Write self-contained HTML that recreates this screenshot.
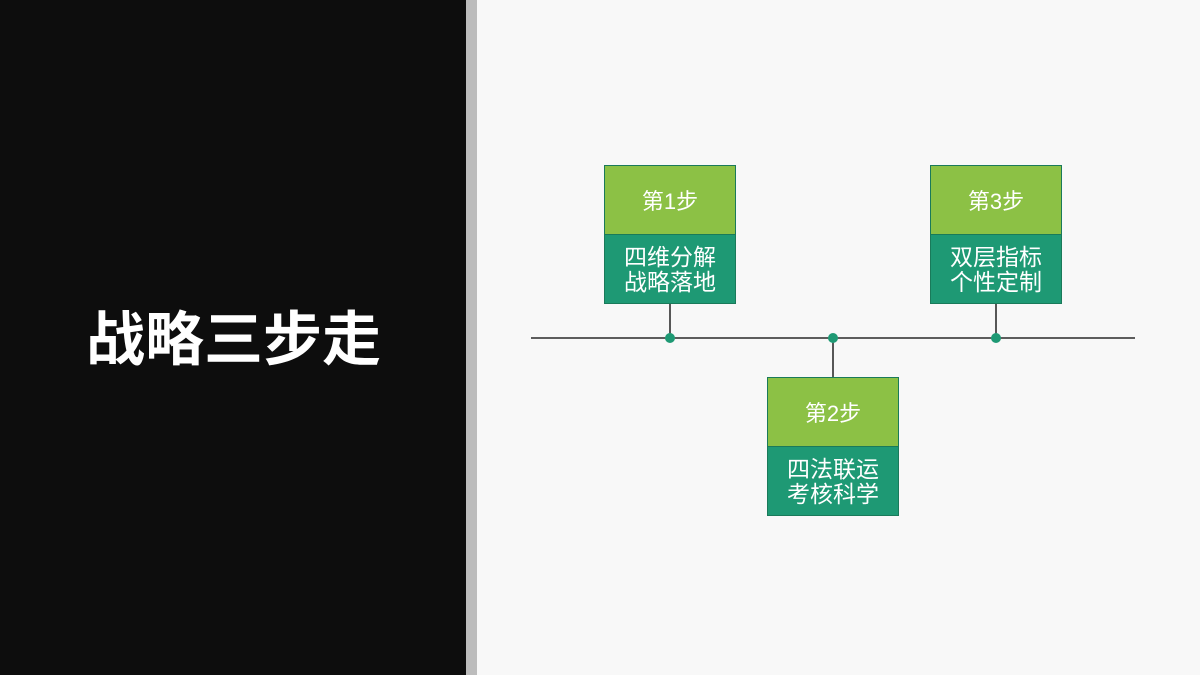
<!DOCTYPE html>
<html><head><meta charset="utf-8"><style>
*{margin:0;padding:0;box-sizing:border-box}
body{width:1200px;height:675px;overflow:hidden;background:#f8f8f8;position:relative;font-family:"Liberation Sans","Noto Sans CJK SC",sans-serif}
.left{position:absolute;left:0;top:0;width:466px;height:675px;background:#0d0d0d}
.strip{position:absolute;left:466px;top:0;width:11px;height:675px;background:#bcbcbc}
.title{position:absolute;left:86px;top:302px;width:300px;font-size:59px;font-weight:bold;color:#fff;line-height:76px;white-space:nowrap}
.box{position:absolute;width:132px;height:139px;border:1px solid #1a7a5a}
.top{height:69px;background:#8cc145;color:#fff;font-size:22px;display:flex;align-items:center;justify-content:center;border-bottom:1px solid #1a7a5a}
.bot{height:68px;background:#1e9974;color:#fff;font-size:23px;line-height:25px;display:flex;align-items:center;justify-content:center;text-align:center;padding-top:2px}
</style></head><body>
<div class="left"></div><div class="strip"></div>
<div class="title">战略三步走</div>
<svg width="1200" height="675" style="position:absolute;left:0;top:0">
<line x1="531" y1="338" x2="1135" y2="338" stroke="#000" stroke-width="1.3"/>
<line x1="670" y1="303" x2="670" y2="338" stroke="#000" stroke-width="1.3"/>
<line x1="996" y1="303" x2="996" y2="338" stroke="#000" stroke-width="1.3"/>
<line x1="833" y1="338" x2="833" y2="377" stroke="#000" stroke-width="1.3"/>
<circle cx="670" cy="338" r="5" fill="#1e9974"/>
<circle cx="833" cy="338" r="5" fill="#1e9974"/>
<circle cx="996" cy="338" r="5" fill="#1e9974"/>
</svg>
<div class="box" style="left:604px;top:165px"><div class="top">第1步</div><div class="bot">四维分解<br>战略落地</div></div>
<div class="box" style="left:767px;top:377px"><div class="top">第2步</div><div class="bot">四法联运<br>考核科学</div></div>
<div class="box" style="left:930px;top:165px"><div class="top">第3步</div><div class="bot">双层指标<br>个性定制</div></div>
</body></html>
